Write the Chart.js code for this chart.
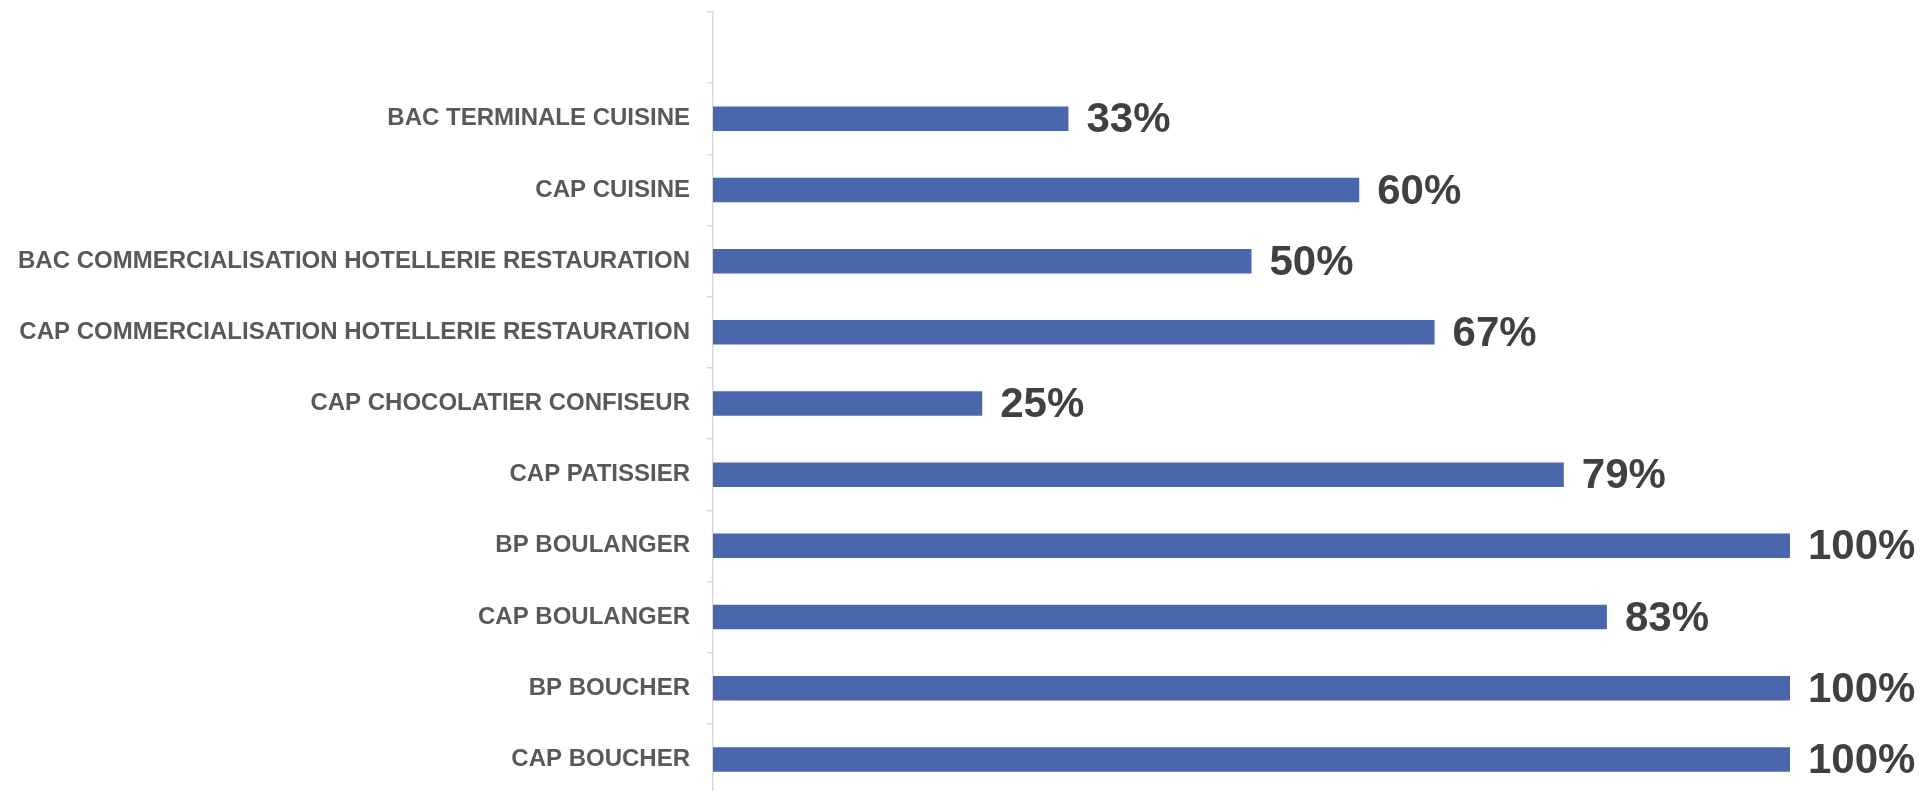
<!DOCTYPE html>
<html>
<head>
<meta charset="utf-8">
<script src="https://cdn.jsdelivr.net/npm/chart.js@4"></script>
<style>
  html, body { margin: 0; padding: 0; background: #fff; overflow: hidden; }
  #wrap { width: 1921px; height: 795px; }
</style>
</head>
<body>
<div id="wrap"><canvas id="formations"></canvas></div>
<script>
// categories from top to bottom (the first slot is empty in the original)
var formations = [
    "",
    "BAC TERMINALE CUISINE",
    "CAP CUISINE",
    "BAC COMMERCIALISATION HOTELLERIE RESTAURATION",
    "CAP COMMERCIALISATION HOTELLERIE RESTAURATION",
    "CAP CHOCOLATIER CONFISEUR",
    "CAP PATISSIER",
    "BP BOULANGER",
    "CAP BOULANGER",
    "BP BOUCHER",
    "CAP BOUCHER"
];
var taux = [null, 33, 60, 50, 67, 25, 79, 100, 83, 100, 100];

// draws the percentages at the end of each bar
var valueLabels = {
    id: "valueLabels",
    afterDatasetsDraw: function (chart) {
        var ctx = chart.ctx;
        var meta = chart.getDatasetMeta(0);
        ctx.save();
        ctx.font = "bold 42px 'Liberation Sans', Arial, sans-serif";
        ctx.fillStyle = "#404040";
        ctx.textAlign = "left";
        ctx.textBaseline = "middle";
        meta.data.forEach(function (bar, i) {
            var v = taux[i];
            if (v === null) return;
            ctx.fillText(v + "%", bar.x + 18, bar.y + 2);
        });
        ctx.restore();
    }
};

var ctx = document.getElementById("formations").getContext("2d");
new Chart(ctx, {
    type: "bar",
    data: {
        labels: formations,
        datasets: [{
            data: taux,
            backgroundColor: "#4a66ac",
            categoryPercentage: 1,
            barPercentage: 0.344
        }]
    },
    options: {
        indexAxis: "y",
        responsive: true,
        maintainAspectRatio: false,
        animation: false,
        layout: { padding: { top: 12, right: 131, bottom: 0, left: 0 } },
        plugins: {
            legend: { display: false },
            tooltip: { enabled: false }
        },
        scales: {
            x: {
                display: false,
                min: 0,
                max: 100
            },
            y: {
                afterFit: function (scale) {
                    scale.width = 713;
                    scale.paddingTop = 0;
                    scale.paddingBottom = 0;
                },
                grid: {
                    drawOnChartArea: false,
                    drawTicks: true,
                    tickLength: 6,
                    color: "#d9d9d9",
                    lineWidth: 1.5
                },
                border: { color: "#d9d9d9", width: 1.5 },
                ticks: {
                    padding: 17,
                    color: "#595959",
                    font: { family: "'Liberation Sans', Arial, sans-serif", size: 24, weight: "bold" }
                }
            }
        }
    },
    plugins: [valueLabels]
});
</script>
</body>
</html>
